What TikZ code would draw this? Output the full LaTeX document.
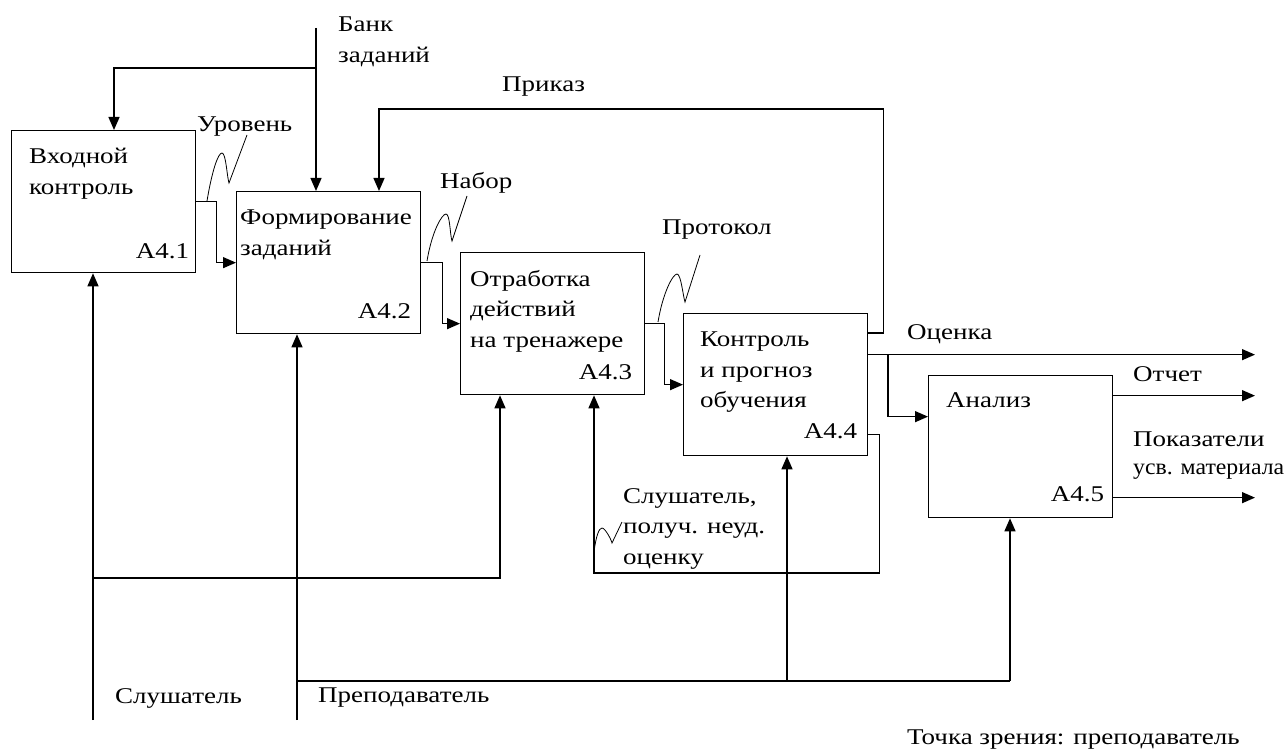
\documentclass[tikz,border=0pt]{standalone}
\usepackage{fontspec}
\setmainfont{Liberation Serif}[FakeStretch=1.2]
\usetikzlibrary{arrows.meta,positioning}
\tikzset{
    blk/.style = {draw, line width=1.3pt, minimum width=184pt, minimum height=142pt, inner sep=0pt, anchor=north west},
    ttl/.style = {anchor=north west, align=left, inner sep=0pt},
    code/.style = {anchor=base east, inner sep=0pt},
    lbl/.style = {anchor=north west, align=left, inner sep=0pt},
    ln/.style = {line width=1.3pt},
    arr/.style = {line width=1.3pt, -{Triangle[length=13pt,width=11pt]}},
    sqg/.style = {line width=0.8pt},
}
\begin{document}
\begin{tikzpicture}[x=1pt, y=-1pt, font=\fontsize{22.5}{30.5}\selectfont]
\useasboundingbox (0,0) rectangle (1286,749);

% blocks
\node[blk] (b1) at (11,130) {};
\node[blk] (b2) at (236,191) {};
\node[blk] (b3) at (460,252) {};
\node[blk] (b4) at (683,313) {};
\node[blk] (b5) at (928,375) {};

\node[ttl] (t1) at ([shift={(18,18)}]b1.north west) {Входной\\контроль};
\node[ttl] (t2) at ([shift={(4,19)}]b2.north west) {Формирование\\заданий};
\node[ttl] (t3) at ([shift={(10,18)}]b3.north west) {Отработка\\действий\\на тренажере};
\node[ttl] (t4) at ([shift={(17,19)}]b4.north west) {Контроль\\и прогноз\\обучения};
\node[ttl] (t5) at ([shift={(18,17)}]b5.north west) {Анализ};

\node[code] (n1) at ([shift={(-7,-15)}]b1.south east) {A4.1};
\node[code] (n2) at ([shift={(-10,-16)}]b2.south east) {A4.2};
\node[code] (n3) at ([shift={(-13,-16)}]b3.south east) {A4.3};
\node[code] (n4) at ([shift={(-11,-18)}]b4.south east) {A4.4};
\node[code] (n5) at ([shift={(-9,-17)}]b5.south east) {A4.5};

% Банк заданий
\coordinate (bank) at (316,28);
\coordinate (bankj) at (316,68);
\coordinate (bank1) at (114,68);
\draw[arr] (bank) -- (bank |- b2.north);
\draw[arr] (bankj) -- (bank1) -- (bank1 |- b1.north);
\node[lbl] (lbank) at (338,17) {Банк\\заданий};

% Приказ
\coordinate (prk) at (379,109);
\draw[arr] ([yshift=-20pt]b4.north east) -- ++(15,0) |- (prk) -- (prk |- b2.north);
\node[lbl] (lprk) at (502,77) {Приказ};

% steps
\draw[arr] (b1.east) -- ++(20,0) |- (b2.west);
\draw[arr] (b2.east) -- ++(21,0) |- (b3.west);
\draw[arr] (b3.east) -- ++(19,0) |- (b4.west);
\node[lbl] (lur) at (197,117) {Уровень};
\node[lbl] (lnab) at (440,172) {Набор};
\node[lbl] (lprot) at (662,220) {Протокол};

\coordinate (sq1) at (207,201);
\coordinate (sq2) at (427,261);
\coordinate (sq3) at (658,322);
\coordinate (sq4) at (594,552);
\draw[sqg] (sq1) .. controls +(5,-30) and +(-4,0) .. ++(15,-48) .. controls +(4,0) and +(-2,-6) .. ++(7,30) -- ++(18,-48);
\draw[sqg] (sq2) .. controls +(5,-30) and +(-4,0) .. ++(19,-47) .. controls +(4,0) and +(-2,-6) .. ++(6,27) -- ++(15,-45);
\draw[sqg] (sq3) .. controls +(5,-30) and +(-4,0) .. ++(19,-48) .. controls +(4,0) and +(-2,-6) .. ++(8,28) -- ++(15,-47);
\draw[sqg] (sq4) .. controls +(2,-16) and +(-3,0) .. ++(8,-24) .. controls +(3,0) and +(-1,-4) .. ++(10,15) -- ++(10,-21);

% outputs
\coordinate (rgt) at (1255,0);
\coordinate (o4) at ([yshift=30pt]b4.east);
\coordinate (obr) at (888,354);
\draw[arr] (o4) -- (o4 -| rgt);
\draw[arr] (obr) |- ([yshift=30pt]b5.west);
\coordinate (o5a) at ([yshift=51pt]b5.east);
\coordinate (o5b) at ([yshift=-51pt]b5.east);
\draw[arr] (o5a) -- (o5a -| rgt);
\draw[arr] (o5b) -- (o5b -| rgt);
\node[lbl] (locn) at (907,324) {Оценка};
\node[lbl] (lotch) at (1133,366) {Отчет};
\node[lbl, font=\fontsize{22.5}{28}\selectfont] (lpok) at (1133,432) {Показатели\\\scalebox{0.88}[1]{усв. материала}};

% feedback
\coordinate (fb) at (594,573);
\draw[arr] ([yshift=-50pt]b4.east) -- ++(11,0) |- (fb) -- (fb |- b3.south);
\node[lbl] (lfb) at (623,488) {Слушатель,\\получ. неуд.\\оценку};

% Слушатель
\coordinate (sl) at (93,720);
\coordinate (slj) at (93,578);
\coordinate (sl3) at (500,578);
\draw[arr] (sl) -- (sl |- b1.south);
\draw[arr] (slj) -- (sl3) -- (sl3 |- b3.south);
\node[lbl] (lsl) at (115,688) {Слушатель};

% Преподаватель
\coordinate (pp) at (297,720);
\coordinate (ppj) at (297,681);
\coordinate (pp4) at (787,681);
\coordinate (pp5) at (1010,681);
\draw[arr] (pp) -- (pp |- b2.south);
\draw[ln] (ppj) -- (pp5);
\draw[arr] (pp4) -- (pp4 |- b4.south);
\draw[arr] (pp5) -- (pp5 |- b5.south);
\node[lbl] (lpp) at (318,688) {Преподаватель};

\node[lbl] (lview) at (907,730) {Точка зрения: преподаватель};
\end{tikzpicture}
\end{document}
